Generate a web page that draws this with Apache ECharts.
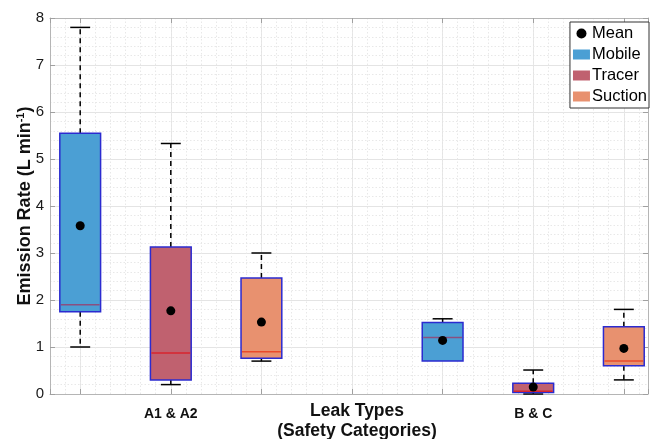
<!DOCTYPE html>
<html>
<head>
<meta charset="utf-8">
<script src="https://cdn.jsdelivr.net/npm/echarts@6/dist/echarts.min.js"></script>
<style>html,body{margin:0;padding:0;background:#fff}#c{width:651px;height:439px}</style>
</head>
<body>
<div id="c"></div>
<script>
// ---- data ----
const categoryLabels = ['A1 & A2', 'B & C'];
const categoryPositions = [2, 6];
const methods = ['Mobile', 'Tracer', 'Suction'];
// x positions of each method's boxes (A1 & A2, B & C)
const mobilePos = [1, 5];
const tracerPos = [2, 6];
const suctionPos = [3, 7];
// box stats: [lower whisker, Q1, median, Q3, upper whisker]
const mobileStats = [[1.0, 1.75, 1.9, 5.55, 7.8], [0.7, 0.7, 1.2, 1.52, 1.6]];
const tracerStats = [[0.2, 0.3, 0.87, 3.13, 5.33], [0.0, 0.03, 0.06, 0.23, 0.51]];
const suctionStats = [[0.7, 0.76, 0.9, 2.47, 3.0], [0.3, 0.6, 0.7, 1.43, 1.8]];
// means
const mobileMean = [3.58, 1.14];
const tracerMean = [1.77, 0.15];
const suctionMean = [1.53, 0.97];
const yTicks = [0, 1, 2, 3, 4, 5, 6, 7, 8];

// ---- styles ----
const FONT = 'Liberation Sans, Arial, Helvetica, sans-serif';
const fills = { Mobile: '#4b9fd4', Tracer: '#c0616f', Suction: '#e8916f' };
const medianColors = { Mobile: '#8a4f80', Tracer: '#d8242e', Suction: '#ea4a2a' };
const edgeColor = '#2b2bd0';
const xMin = 2 / 3, xMax = 7.2667;
const boxHalf = 0.225, capHalf = 0.11;

function boxData(pos, stats) {
  return pos.map((p, i) => [p].concat(stats[i]));
}

function makeRender(name) {
  return function (params, api) {
    const x = api.value(0);
    const lo = api.value(1), q1 = api.value(2), med = api.value(3), q3 = api.value(4), hi = api.value(5);
    const cx = api.coord([x, 0])[0];
    const L = api.coord([x - boxHalf, 0])[0];
    const R = api.coord([x + boxHalf, 0])[0];
    const cL = api.coord([x - capHalf, 0])[0];
    const cR = api.coord([x + capHalf, 0])[0];
    const Y = v => api.coord([x, v])[1];
    const dash = { stroke: '#000', lineWidth: 1.5, lineDash: [5, 4] };
    const solid = { stroke: '#000', lineWidth: 1.5 };
    const ch = [];
    if (hi > q3) {
      ch.push({ type: 'line', shape: { x1: cx, y1: Y(q3), x2: cx, y2: Y(hi) }, style: dash });
      ch.push({ type: 'line', shape: { x1: cL, y1: Y(hi), x2: cR, y2: Y(hi) }, style: solid });
    }
    if (lo < q1) {
      ch.push({ type: 'line', shape: { x1: cx, y1: Y(q1), x2: cx, y2: Y(lo) }, style: dash });
      ch.push({ type: 'line', shape: { x1: cL, y1: Y(lo), x2: cR, y2: Y(lo) }, style: solid });
    }
    ch.push({ type: 'rect', shape: { x: L, y: Y(q3), width: R - L, height: Y(q1) - Y(q3) },
      style: { fill: fills[name], stroke: edgeColor, lineWidth: 1.5 } });
    ch.push({ type: 'line', shape: { x1: L + 1, y1: Y(med), x2: R - 1, y2: Y(med) },
      style: { stroke: medianColors[name], lineWidth: 1.5 } });
    return { type: 'group', children: ch };
  };
}

const chart = echarts.init(document.getElementById('c'), null, { renderer: 'canvas' });
const gridLineMajor = { color: '#e4e4e4', width: 1, type: 'solid' };
const gridLineMinor = { color: '#e8e8e8', width: 1, type: [1.5, 2] };

const boxSeries = [
  ['Mobile', mobilePos, mobileStats],
  ['Tracer', tracerPos, tracerStats],
  ['Suction', suctionPos, suctionStats]
].map(([name, pos, stats]) => ({
  name: name,
  type: 'custom',
  xAxisIndex: 0, yAxisIndex: 0,
  itemStyle: { color: fills[name] },
  renderItem: makeRender(name),
  encode: { x: 0, y: [1, 2, 3, 4, 5] },
  data: boxData(pos, stats),
  z: 3
}));

const meanData = [].concat(
  mobilePos.map((p, i) => [p, mobileMean[i]]),
  tracerPos.map((p, i) => [p, tracerMean[i]]),
  suctionPos.map((p, i) => [p, suctionMean[i]])
);

chart.setOption({
  animation: false,
  textStyle: { fontFamily: FONT },
  grid: { left: 50, right: 3, top: 18, bottom: 45, containLabel: false, outerBoundsMode: 'none' },
  legend: {
    orient: 'vertical', right: 2, top: 22,
    itemWidth: 17, itemHeight: 10, itemGap: 4,
    padding: [3, 2, 3, 3],
    borderColor: '#333', borderWidth: 1, backgroundColor: '#fff',
    textStyle: { fontFamily: FONT, fontSize: 16.5, color: '#000', padding: [0, 0, 0, -3] },
    itemStyle: { borderWidth: 0 },
    data: [
      { name: 'Mean', icon: 'circle', itemStyle: { color: '#000', opacity: 1 } },
      { name: 'Mobile', icon: 'rect' },
      { name: 'Tracer', icon: 'rect' },
      { name: 'Suction', icon: 'rect' }
    ]
  },
  xAxis: [
    {
      type: 'value', position: 'bottom', min: xMin, max: xMax,
      minInterval: 1, maxInterval: 1,
      axisLine: { show: true, lineStyle: { color: '#b5b5b5', width: 1 } },
      axisTick: { show: true, inside: true, length: 5, lineStyle: { color: '#a0a0a0' } },
      axisLabel: {
        margin: 13, fontFamily: FONT, fontSize: 14, fontWeight: 'bold', color: '#111',
        formatter: function (v) {
          for (let i = 0; i < categoryPositions.length; i++) {
            if (Math.abs(v - categoryPositions[i]) < 1e-6) return categoryLabels[i];
          }
          return '';
        }
      },
      splitLine: { show: true, lineStyle: gridLineMajor },
      name: 'Leak Types\n(Safety Categories)',
      nameLocation: 'middle', nameGap: 7, nameMoveOverlap: false,
      nameTextStyle: { fontFamily: FONT, fontSize: 17.5, fontWeight: 'bold', color: '#111', lineHeight: 20, padding: [0, 0, 0, 16] }
    },
    {
      type: 'value', position: 'bottom', min: xMin, max: xMax, interval: 1 / 6,
      axisLine: { show: false }, axisTick: { show: false }, axisLabel: { show: false },
      splitLine: { show: true, lineStyle: gridLineMinor }
    },
    {
      type: 'value', position: 'top', min: xMin, max: xMax,
      minInterval: 1, maxInterval: 1,
      axisLine: { show: true, lineStyle: { color: '#b5b5b5', width: 1 } },
      axisTick: { show: true, inside: true, length: 5, lineStyle: { color: '#a0a0a0' } },
      axisLabel: { show: false },
      splitLine: { show: false }
    }
  ],
  yAxis: [
    {
      type: 'value', position: 'left', min: yTicks[0], max: yTicks[yTicks.length - 1], interval: 1,
      axisLine: { show: true, lineStyle: { color: '#b5b5b5', width: 1 } },
      axisTick: { show: true, inside: true, length: 5, lineStyle: { color: '#a0a0a0' } },
      axisLabel: { margin: 6, fontFamily: FONT, fontSize: 15, color: '#1a1a1a' },
      splitLine: { show: true, lineStyle: gridLineMajor },
      minorTick: { show: false, splitNumber: 5 },
      minorSplitLine: { show: true, lineStyle: gridLineMinor },
      name: 'Emission Rate (L min{sup|-1})',
      nameLocation: 'middle', nameGap: 15, nameRotate: 90, nameMoveOverlap: false,
      nameTextStyle: {
        fontFamily: FONT, fontSize: 18, fontWeight: 'bold', color: '#111',
        rich: { sup: { fontFamily: FONT, fontSize: 11, fontWeight: 'bold', color: '#111', verticalAlign: 'top', padding: [0, 0, 9, 0] } }
      }
    },
    {
      type: 'value', position: 'right', min: yTicks[0], max: yTicks[yTicks.length - 1], interval: 1,
      axisLine: { show: true, lineStyle: { color: '#b5b5b5', width: 1 } },
      axisTick: { show: true, inside: true, length: 5, lineStyle: { color: '#a0a0a0' } },
      axisLabel: { show: false },
      splitLine: { show: false }
    }
  ],
  series: boxSeries.concat([{
    name: 'Mean',
    type: 'scatter',
    xAxisIndex: 0, yAxisIndex: 0,
    symbol: 'circle', symbolSize: 9,
    itemStyle: { color: '#000', opacity: 1 },
    data: meanData,
    z: 5
  }])
});
</script>
</body>
</html>
